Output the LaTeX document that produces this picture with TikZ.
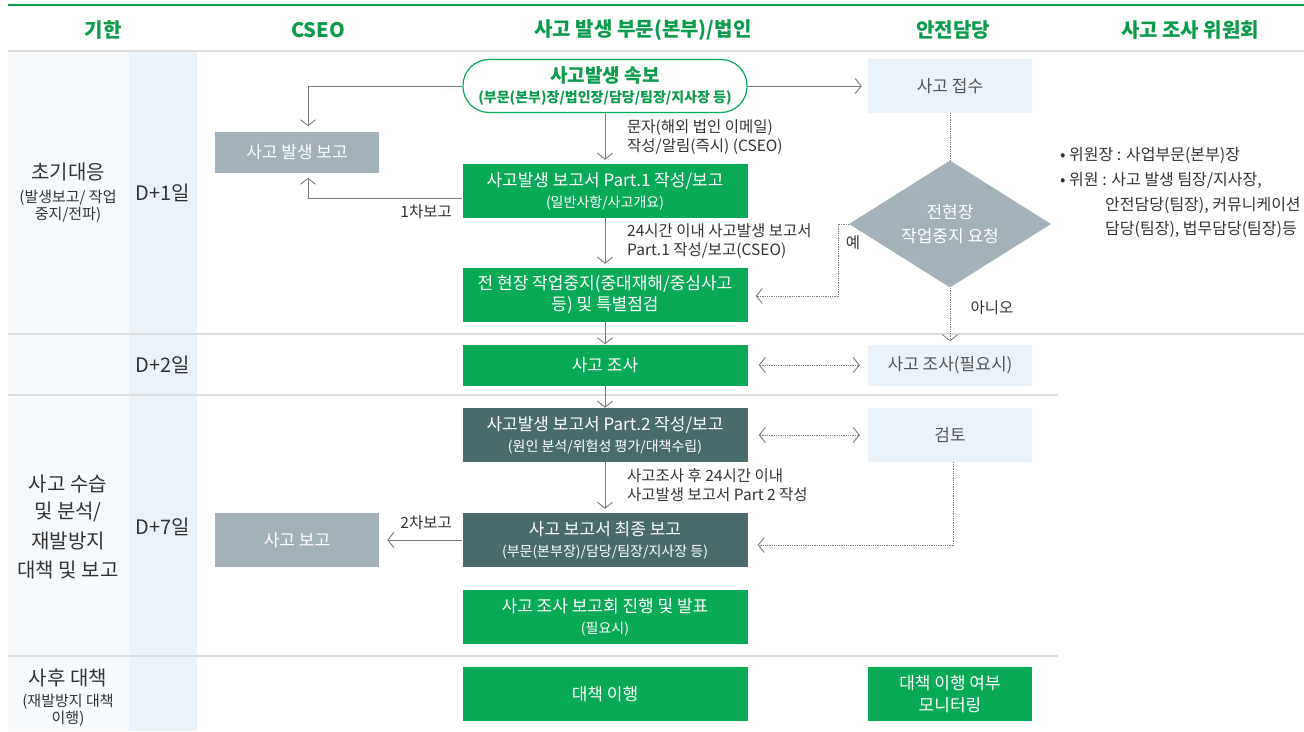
\documentclass[tikz,border=0pt]{standalone}
\usepackage{fontspec}
\setmainfont{Noto Sans CJK KR}
\usetikzlibrary{arrows.meta,shapes.geometric,calc}
\definecolor{hdgreen}{HTML}{0C9B4D}
\definecolor{boxgreen}{HTML}{08AA57}
\definecolor{boxteal}{HTML}{4A6A6C}
\definecolor{boxgray}{HTML}{A3B1B9}
\definecolor{boxlight}{HTML}{EBF3FA}
\definecolor{leftbg}{HTML}{F6FAFD}
\definecolor{daybg}{HTML}{EBF3FA}
\definecolor{sepgray}{HTML}{DDDDDD}
\definecolor{conngray}{HTML}{7A7A7A}
\definecolor{txtdark}{HTML}{333333}
\definecolor{txtgray}{HTML}{555555}
\newcommand\fz[2]{\fontsize{#1}{#2}\selectfont}
\begin{document}
\begin{tikzpicture}[x=1pt,y=-1pt,
  barb/.tip={Straight Barb[length=6pt,width=15pt,line width=0.9pt]},
  basebox/.style={rectangle,inner sep=0pt,align=center,minimum width=285pt,minimum height=54pt},
  greenbox/.style={basebox,fill=boxgreen,text=white,font=\fz{17}{21}},
  tealbox/.style={basebox,fill=boxteal,text=white,font=\fz{17}{21}},
  graybox/.style={basebox,fill=boxgray,text=white,font=\fz{17}{21},minimum width=164pt},
  lightbox/.style={basebox,fill=boxlight,text=txtgray,font=\fz{17}{21},minimum width=164pt},
  hdr/.style={font=\bfseries\fz{20}{24},text=hdgreen},
  bigleft/.style={font=\fz{20}{24},text=txtdark,inner sep=0pt},
  smallleft/.style={font=\fz{15}{17},text=txtdark,inner sep=0pt},
  daytxt/.style={font=\fz{20}{24},text=txtdark},
  conn/.style={draw=conngray,line width=0.8pt,-barb},
  dconn/.style={draw=conngray,line width=0.8pt,densely dotted},
  lbl/.style={font=\fz{15.5}{19},text=txtdark,align=left,inner sep=0pt},
  cmt/.style={anchor=west,inner sep=0pt,font=\fz{16}{20},text=txtdark},
  sepline/.style={draw=sepgray,line width=1.5pt}
]
\useasboundingbox (0,0) rectangle (1304,731);
\begin{scope}
\clip (0,0) rectangle (1304,731);
% backgrounds
\fill[leftbg] (8,51) rectangle (129,731);
\fill[daybg] (129,51) rectangle (197,731);
% header
\draw[draw=hdgreen,line width=1.4pt] (8,5) -- (1304,5);
\draw[sepline,line width=2pt] (8,51) -- (1304,51);
\node[hdr] (h1) at (103,30) {기한};
\node[hdr] (h2) at (318,30) {CSEO};
\node[hdr] (h3) at (643,30) {사고 발생 부문(본부)/법인};
\node[hdr] (h4) at (953,30) {안전담당};
\node[hdr] (h5) at (1190,30) {사고 조사 위원회};
% row separators
\draw[sepline] (8,334) -- (1304,334);
\draw[sepline] (8,395) -- (1058,395);
\draw[sepline] (8,656) -- (1058,656);
% left column
\node[bigleft] (r1a) at (68,172) {초기대응};
\node[smallleft] (r1b) at (68,198) {(발생보고/ 작업};
\node[smallleft] (r1c) at (68,215) {중지/전파)};
\node[daytxt] (d1) at (163,193) {D+1일};
\node[daytxt] (d2) at (163,365) {D+2일};
\node[bigleft] (r3a) at (68,484) {사고 수습};
\node[bigleft] (r3b) at (68,512) {및 분석/};
\node[bigleft] (r3c) at (68,541) {재발방지};
\node[bigleft] (r3d) at (68,570) {대책 및 보고};
\node[daytxt] (d7) at (163,527) {D+7일};
\node[bigleft] (r4a) at (68,678) {사후 대책};
\node[smallleft] (r4b) at (68,702) {(재발방지 대책};
\node[smallleft] (r4c) at (68,719) {이행)};
% nodes
\node[basebox,draw=boxgreen,line width=1.2pt,fill=white,rounded corners=26pt,minimum width=284pt,minimum height=53pt,text=hdgreen,font=\bfseries\fz{19}{20}] (sokbo) at (605,86) {사고발생 속보\\{\bfseries\fz{14}{17}(부문(본부)장/법인장/담당/팀장/지사장 등)}};
\node[lightbox] (jeopsu) at (950,86) {사고 접수};
\node[graybox,minimum height=41pt] (rep1) at (297,152) {사고 발생 보고};
\node[greenbox] (p1) at (605,191) {사고발생 보고서 Part.1 작성/보고\\{\fz{14}{17}(일반사항/사고개요)}};
\node[diamond,shape aspect=1.6,fill=boxgray,inner sep=0pt,minimum width=202pt,minimum height=127pt,text=white,font=\fz{17}{24},align=center] (dia) at (950,224) {전현장\\작업중지 요청};
\node[greenbox] (stop) at (605,295) {전 현장 작업중지(중대재해/중심사고\\등) 및 특별점검};
\node[greenbox,minimum height=41pt] (josa) at (605,365) {사고 조사};
\node[lightbox,minimum height=41pt] (josa2) at (950,365) {사고 조사(필요시)};
\node[tealbox] (p2) at (605,435) {사고발생 보고서 Part.2 작성/보고\\{\fz{14}{17}(원인 분석/위험성 평가/대책수립)}};
\node[lightbox] (review) at (950,435) {검토};
\node[tealbox] (final) at (605,540) {사고 보고서 최종 보고\\{\fz{14}{17}(부문(본부장)/담당/팀장/지사장 등)}};
\node[graybox] (rep2) at (297,540) {사고 보고};
\node[greenbox] (meet) at (605,617) {사고 조사 보고회 진행 및 발표\\{\fz{14}{17}(필요시)}};
\node[greenbox] (act) at (605,694) {대책 이행};
\node[greenbox,minimum width=164pt,font=\fz{17}{22}] (mon) at (950,694) {대책 이행 여부\\모니터링};
% committee text
\node[cmt] (c1) at (1060,155) {• 위원장 : 사업부문(본부)장};
\node[cmt] (c2) at (1060,180) {• 위원 : 사고 발생 팀장/지사장,};
\node[cmt] (c3) at (1105,205) {안전담당(팀장), 커뮤니케이션};
\node[cmt] (c4) at (1105,229) {담당(팀장), 법무담당(팀장)등};
% connectors
\coordinate (k1) at (308,86);
\draw[conn,shorten >=5pt] (sokbo.west) -- (k1) -- (k1 |- rep1.north);
\draw[conn,shorten >=6pt] (sokbo.east) -- (jeopsu.west);
\draw[conn,shorten >=4pt] (sokbo.south) -- (p1.north);
\node[lbl,anchor=north west] (l1) at (627,119) {문자(해외 법인 이메일)\\작성/알림(즉시) (CSEO)};
\coordinate (k2) at (308,198);
\draw[conn,shorten >=5pt] (k2 -| p1.west) -- (k2) -- (k2 |- rep1.south);
\node[lbl,anchor=north east] (l2) at (452,204) {1차보고};
\draw[conn,shorten >=4pt] (p1.south) -- (stop.north);
\node[lbl,anchor=north west] (l3) at (627,223) {24시간 이내 사고발생 보고서\\Part.1 작성/보고(CSEO)};
\draw[dconn] (jeopsu.south) -- (dia.north);
\coordinate (k3) at (838,296);
\draw[dconn,-barb,shorten >=8pt] (dia.west) -- (dia.west -| k3) -- (k3) -- (k3 -| stop.east);
\node[lbl] (l4) at (853,243) {예};
\draw[dconn,-barb,shorten >=3pt] (dia.south) -- (josa2.north);
\node[lbl] (l5) at (992,308) {아니오};
\draw[conn] (stop.south) -- (josa.north);
\draw[dconn,barb-barb,shorten >=8pt,shorten <=11pt] (josa.east) -- (josa2.west);
\draw[conn] (josa.south) -- (p2.north);
\draw[dconn,barb-barb,shorten >=8pt,shorten <=11pt] (p2.east) -- (review.west);
\draw[conn,shorten >=4pt] (p2.south) -- (final.north);
\node[lbl,anchor=north west] (l6) at (627,468) {사고조사 후 24시간 이내\\사고발생 보고서 Part 2 작성};
\coordinate (k4) at (953,545);
\draw[dconn,-barb,shorten >=10pt] (review.south -| k4) -- (k4) -- (k4 -| final.east);
\draw[conn,shorten >=8pt] (final.west) -- (rep2.east);
\node[lbl,anchor=south east] (l7) at (452,530) {2차보고};
\end{scope}
\end{tikzpicture}
\end{document}
